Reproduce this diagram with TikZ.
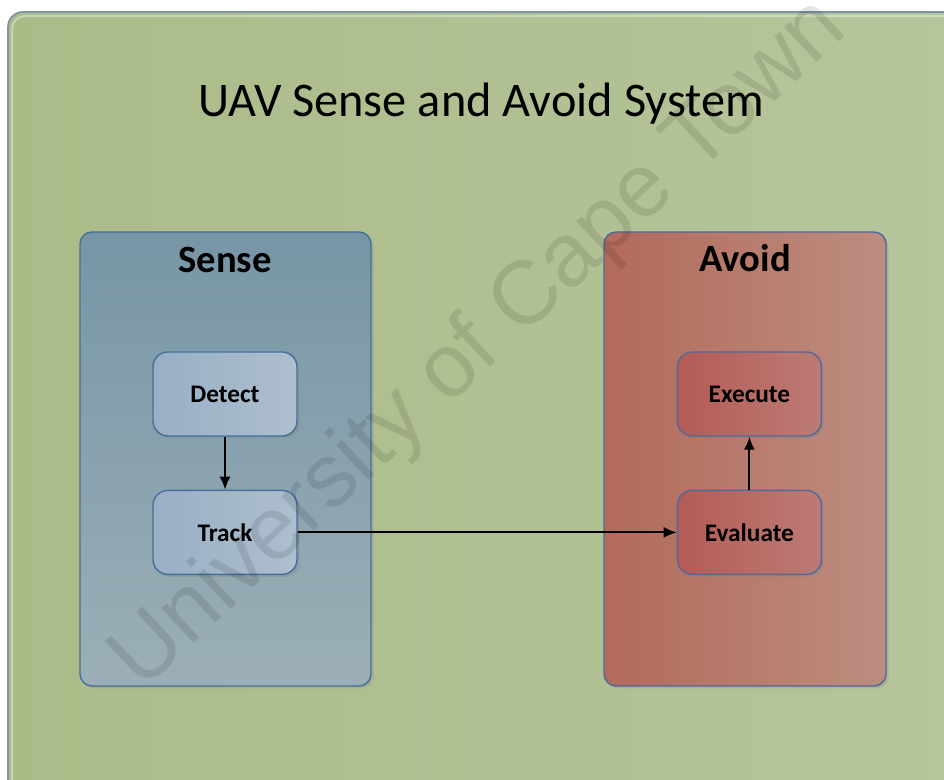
\documentclass[tikz,border=0pt]{standalone}
\usepackage{fontspec}
\setmainfont{Carlito}
\newfontfamily\wmfont{Liberation Sans}
\usepackage{tikz}
\usetikzlibrary{arrows,arrows.meta,positioning,shadows}

\definecolor{outerA}{HTML}{ABBB88}
\definecolor{outerB}{HTML}{B6C59C}
\definecolor{outerLine}{HTML}{7E93A6}
\definecolor{senseA}{HTML}{7795A6}
\definecolor{senseB}{HTML}{9CAFB6}
\definecolor{senseLine}{HTML}{44709A}
\definecolor{stepA}{HTML}{98AFC6}
\definecolor{stepB}{HTML}{AEBFCE}
\definecolor{avoidA}{HTML}{B26A5B}
\definecolor{avoidB}{HTML}{BD8D80}
\definecolor{avoidLine}{HTML}{50699A}
\definecolor{actA}{HTML}{B45B56}
\definecolor{actB}{HTML}{BD7B75}

\tikzset{
  group/.style={draw=senseLine, line width=0.8pt, rounded corners=0.24cm,
    drop shadow={opacity=0.25,shadow xshift=0.05cm,shadow yshift=-0.05cm}},
  sensebox/.style={group, shading angle=-45, top color=senseA, bottom color=senseB},
  avoidbox/.style={group, draw=avoidLine, left color=avoidA, right color=avoidB},
  stepnode/.style={draw=senseLine, line width=0.8pt, rounded corners=0.3cm,
    minimum width=2.88cm, minimum height=1.68cm,
    font=\fontsize{14.4pt}{17pt}\selectfont\bfseries,
    drop shadow={opacity=0.3,shadow xshift=0.05cm,shadow yshift=-0.05cm}},
  sensestep/.style={stepnode, left color=stepA, right color=stepB},
  avoidstep/.style={stepnode, draw=avoidLine, left color=actA, right color=actB},
  grouplabel/.style={font=\fontsize{22pt}{26pt}\selectfont\bfseries},
  flow/.style={-{Latex[length=2.6mm,width=2.2mm]}, line width=1.1pt}
}

\begin{document}
\begin{tikzpicture}
\useasboundingbox (0,0) rectangle (18.88,15.6);
\clip (0,0) rectangle (18.88,15.6);

% background panel
\draw[draw=outerLine, line width=1pt, rounded corners=0.3cm, left color=outerA, right color=outerB]
  (0.16,-0.6) rectangle (19.4,15.36);
\draw[draw=white, opacity=0.35, line width=1.2pt, rounded corners=0.26cm]
  (0.24,-0.6) -- (0.24,15.28) -- (19.4,15.28);
\node (title) at (9.62,13.52) {\fontsize{27.5pt}{32pt}\selectfont UAV Sense and Avoid System};

% the two groups
\node[sensebox, minimum width=5.82cm, minimum height=9.08cm] (sense) at (4.51,6.42) {};
\node[avoidbox, minimum width=5.64cm, minimum height=9.08cm] (avoid) at (14.9,6.42) {};
\node[grouplabel] (senselabel) at (4.5,10.4) {Sense};
\node[grouplabel] (avoidlabel) at (14.9,10.44) {Avoid};

% steps
\node[sensestep] (detect) at (4.5,7.72) {Detect};
\node[sensestep, below=1.06cm of detect] (track) {Track};
\node[avoidstep, right=7.58cm of track] (evaluate) {Evaluate};
\node[avoidstep, above=1.06cm of evaluate] (execute) {Execute};

\draw[flow] (detect) -- (track);
\draw[flow] (track) -- (evaluate);
\draw[flow] (evaluate) -- (execute);

% watermark
\node[rotate=43, text=black, opacity=0.1] (mark) at (9.6,8.7)
  {\wmfont\fontsize{51pt}{61pt}\selectfont University of Cape Town};
\end{tikzpicture}
\end{document}
